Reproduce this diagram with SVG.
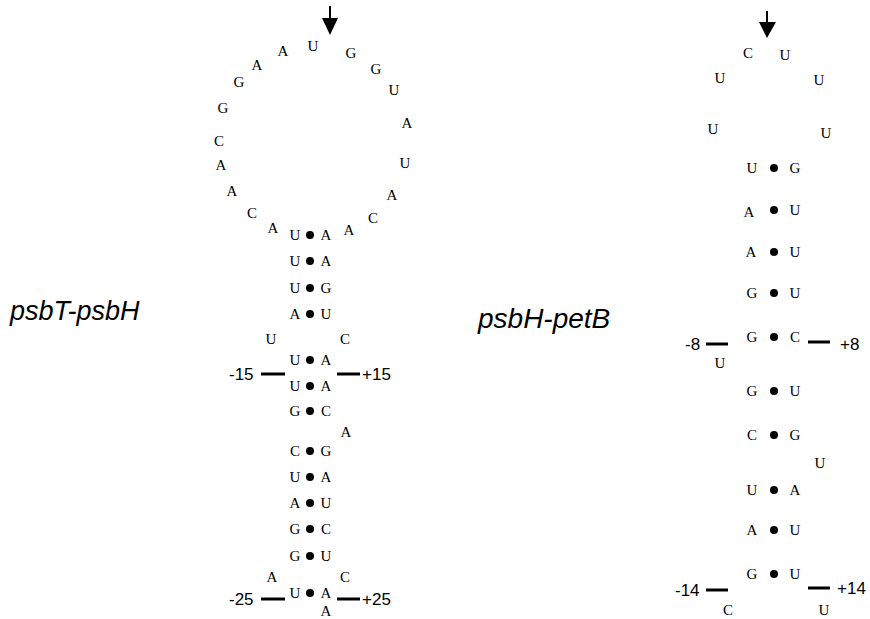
<svg xmlns="http://www.w3.org/2000/svg" width="870" height="619" viewBox="0 0 870 619">
  <style>
    .nt { font-family: "Liberation Serif", "Times New Roman", serif; font-size: 15px; fill: #000; text-anchor: middle; }
    .num { font-family: "Liberation Sans", Arial, sans-serif; font-size: 17px; fill: #000; }
    .title { font-family: "Liberation Sans", Arial, sans-serif; font-size: 27px; font-style: italic; fill: #000; }
    .tick { stroke: #000; stroke-width: 3; }
    .pair { fill: #000; }
  </style>
  <defs>
    <circle id="bp" r="4" class="pair"/>
  </defs>
  <rect width="870" height="619" fill="#fff"/>

  <!-- titles -->
  <g id="label-psbT-psbH"><text class="title" x="10" y="320">psbT-psbH</text></g>
  <g id="label-psbH-petB"><text class="title" x="478" y="328" style="font-size:28px">psbH-petB</text></g>

  <!-- psbT-psbH hairpin -->
  <g id="hairpin-psbT-psbH">
    <g id="cleavage-left">
      <line x1="330" y1="6" x2="330" y2="20" stroke="#000" stroke-width="2"/>
      <polygon points="322,18 338,18 330,35" fill="#000"/>
    </g>
    <g id="loop-left">
      <text class="nt" x="313" y="51">U</text>
      <text class="nt" x="283" y="56">A</text>
      <text class="nt" x="257" y="70">A</text>
      <text class="nt" x="239" y="87">G</text>
      <text class="nt" x="223" y="113">G</text>
      <text class="nt" x="219" y="146">C</text>
      <text class="nt" x="221" y="170">A</text>
      <text class="nt" x="232" y="196">A</text>
      <text class="nt" x="252" y="218">C</text>
      <text class="nt" x="273" y="233">A</text>
      <text class="nt" x="351" y="58">G</text>
      <text class="nt" x="376" y="74">G</text>
      <text class="nt" x="394" y="95">U</text>
      <text class="nt" x="407" y="128">A</text>
      <text class="nt" x="405" y="168">U</text>
      <text class="nt" x="392" y="200">A</text>
      <text class="nt" x="373" y="223">C</text>
      <text class="nt" x="349" y="235">A</text>
    </g>
    <g id="stem-left">
      <text class="nt" x="295" y="240">U</text><use href="#bp" x="310" y="235"/><text class="nt" x="326" y="240">A</text>
      <text class="nt" x="295" y="266">U</text><use href="#bp" x="310" y="261"/><text class="nt" x="326" y="266">A</text>
      <text class="nt" x="295" y="293">U</text><use href="#bp" x="310" y="288"/><text class="nt" x="326" y="293">G</text>
      <text class="nt" x="295" y="319">A</text><use href="#bp" x="310" y="314"/><text class="nt" x="326" y="319">U</text>
      <text class="nt" x="271" y="344">U</text><text class="nt" x="345" y="344">C</text>
      <text class="nt" x="295" y="365">U</text><use href="#bp" x="310" y="360"/><text class="nt" x="326" y="365">A</text>
      <text class="nt" x="295" y="391">U</text><use href="#bp" x="310" y="386"/><text class="nt" x="326" y="391">A</text>
      <text class="nt" x="295" y="416">G</text><use href="#bp" x="310" y="411"/><text class="nt" x="326" y="416">C</text>
      <text class="nt" x="346" y="437">A</text>
      <text class="nt" x="295" y="456">C</text><use href="#bp" x="310" y="451"/><text class="nt" x="326" y="456">G</text>
      <text class="nt" x="295" y="482">U</text><use href="#bp" x="310" y="477"/><text class="nt" x="326" y="482">A</text>
      <text class="nt" x="295" y="508">A</text><use href="#bp" x="310" y="503"/><text class="nt" x="326" y="508">U</text>
      <text class="nt" x="295" y="534">G</text><use href="#bp" x="310" y="529"/><text class="nt" x="326" y="534">C</text>
      <text class="nt" x="295" y="561">G</text><use href="#bp" x="310" y="556"/><text class="nt" x="326" y="561">U</text>
      <text class="nt" x="272" y="582">A</text><text class="nt" x="345" y="582">C</text>
      <text class="nt" x="295" y="598">U</text><use href="#bp" x="310" y="593"/><text class="nt" x="326" y="598">A</text>
      <text class="nt" x="326" y="616">A</text>
    </g>
    <g id="positions-left">
      <text class="num" x="229" y="380">-15</text>
      <line class="tick" x1="261" y1="374" x2="285" y2="374"/>
      <line class="tick" x1="337" y1="374" x2="360" y2="374"/>
      <text class="num" x="362" y="380">+15</text>
      <text class="num" x="229" y="605">-25</text>
      <line class="tick" x1="261" y1="599" x2="285" y2="599"/>
      <line class="tick" x1="337" y1="599" x2="360" y2="599"/>
      <text class="num" x="362" y="605">+25</text>
    </g>
  </g>

  <!-- psbH-petB hairpin -->
  <g id="hairpin-psbH-petB">
    <g id="cleavage-right">
      <line x1="767" y1="11" x2="767" y2="24" stroke="#000" stroke-width="2"/>
      <polygon points="759,22 776,22 767,38" fill="#000"/>
    </g>
    <g id="loop-right">
      <text class="nt" x="748" y="58">C</text>
      <text class="nt" x="785" y="60">U</text>
      <text class="nt" x="720" y="83">U</text>
      <text class="nt" x="819" y="85">U</text>
      <text class="nt" x="713" y="134">U</text>
      <text class="nt" x="826" y="138">U</text>
    </g>
    <g id="stem-right">
      <text class="nt" x="752" y="173">U</text><use href="#bp" x="774" y="168"/><text class="nt" x="795" y="173">G</text>
      <text class="nt" x="749" y="217">A</text><use href="#bp" x="774" y="210"/><text class="nt" x="795" y="215">U</text>
      <text class="nt" x="751" y="257">A</text><use href="#bp" x="774" y="252"/><text class="nt" x="795" y="257">U</text>
      <text class="nt" x="752" y="298">G</text><use href="#bp" x="774" y="293"/><text class="nt" x="795" y="298">U</text>
      <text class="nt" x="752" y="342">G</text><use href="#bp" x="774" y="337"/><text class="nt" x="795" y="342">C</text>
      <text class="nt" x="720" y="368">U</text>
      <text class="nt" x="752" y="396">G</text><use href="#bp" x="774" y="391"/><text class="nt" x="795" y="396">U</text>
      <text class="nt" x="752" y="440">C</text><use href="#bp" x="774" y="435"/><text class="nt" x="795" y="440">G</text>
      <text class="nt" x="820" y="468">U</text>
      <text class="nt" x="752" y="495">U</text><use href="#bp" x="774" y="490"/><text class="nt" x="795" y="495">A</text>
      <text class="nt" x="752" y="535">A</text><use href="#bp" x="774" y="530"/><text class="nt" x="795" y="535">U</text>
      <text class="nt" x="752" y="579">G</text><use href="#bp" x="774" y="574"/><text class="nt" x="795" y="579">U</text>
      <text class="nt" x="728" y="615">C</text>
      <text class="nt" x="824" y="615">U</text>
    </g>
    <g id="positions-right">
      <text class="num" x="685" y="350">-8</text>
      <line class="tick" x1="706" y1="344" x2="728" y2="344"/>
      <line class="tick" x1="808" y1="342" x2="830" y2="342"/>
      <text class="num" x="840" y="350">+8</text>
      <text class="num" x="675" y="596">-14</text>
      <line class="tick" x1="706" y1="590" x2="728" y2="590"/>
      <line class="tick" x1="808" y1="588" x2="830" y2="588"/>
      <text class="num" x="837" y="594">+14</text>
    </g>
  </g>
</svg>
